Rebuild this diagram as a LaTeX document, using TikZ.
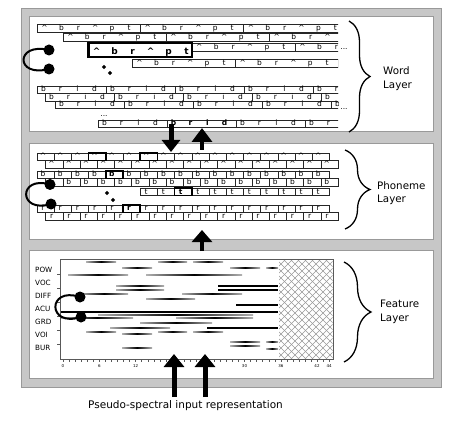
\documentclass[tikz,border=0pt]{standalone}
\usepackage{fontspec}
\setmainfont{DejaVu Sans}
\usetikzlibrary{shapes.geometric,decorations.pathreplacing,arrows.meta}

\newcommand\aptbox[3]{%
  \draw[cell] (#2,#1) rectangle ++(103.2,8);%
  \foreach \c [count=\i from 0] in {\textasciicircum,b,r,\textasciicircum,p,t}{%
    \node[#3] at (#2+7.5+16.9*\i,#1+6.3) {\c};}}
\newcommand\bridbox[3]{%
  \draw[cell] (#2,#1) rectangle ++(69,7.5);%
  \foreach \c [count=\i from 0] in {b,r,i,d}{%
    \node[#3] at (#2+6.5+17*\i,#1+6) {\c};}}
\newcommand\phbox[4]{%
  \draw[cell] (#2,#1) rectangle ++(17.2,7.5);%
  \node[#4] at (#2+6,#1+6) {#3};}
\newcommand\phbold[3]{%
  \draw[line width=1.5pt,fill=white] (#2,#1) rectangle ++(17.2,7.5);%
  \node[bltr] at (#2+6,#1+6) {#3};}
\newcommand\fband[3]{%
  \shade[left color=black!30,right color=black!30,middle color=black] (#1,#3-0.8) rectangle (#2,#3+0.8);}
\newcommand\sband[3]{%
  \fill[black] (#1,#3-0.8) rectangle (#2,#3+0.8);}

\begin{document}
\begin{tikzpicture}[x=1pt,y=-1pt,
  cell/.style={draw=black!85,line width=0.5pt},
  ltr/.style={inner sep=0pt,anchor=base,font=\fontsize{7.5}{7.5}\selectfont},
  bltr/.style={ltr,font=\fontsize{7.5}{7.5}\selectfont\bfseries},
  bigltr/.style={inner sep=0pt,anchor=base,font=\fontsize{9}{9}\selectfont\bfseries},
  dotc/.style={circle,fill=black,inner sep=0pt,minimum size=11pt},
  loopl/.style={line width=2pt,black},
  dmd/.style={diamond,fill=black,inner sep=0pt,minimum size=4.5pt},
  lab/.style={font=\fontsize{10.3}{13.5}\selectfont,align=left,anchor=west,inner sep=0pt},
  brc/.style={decorate,decoration={brace,amplitude=#1},line width=1.3pt},
  bigarrow/.style={line width=5pt,-{Triangle[width=20pt,length=13pt]}},
  flab/.style={font=\fontsize{7.2}{7.2}\selectfont,anchor=west,inner sep=0pt},
  tlab/.style={font=\fontsize{4}{4}\selectfont,inner sep=0pt},
  hatch/.style={draw=black!40,line width=0.4pt},
  frame/.style={fill=black!22,draw=black!40,line width=0.6pt},
  panel/.style={fill=white,draw=black!40,line width=0.6pt},
]
\useasboundingbox (0,0) rectangle (450,425);

% frame and panels
\path[frame] (21,8) rectangle (441,387);
\path[panel] (29,16) rectangle (433,131);
\path[panel] (29,143) rectangle (433,239);
\path[panel] (29,250) rectangle (433,378);

% ---------------- Word layer ----------------
\begin{scope}
\clip (30,17) rectangle (338,130);
\foreach \k in {0,...,2} {\aptbox{24.5}{37+\k*103.2}{ltr}}
\foreach \k in {0,...,2} {\aptbox{33}{62.9+\k*103.2}{ltr}}
\foreach \k in {1,...,2} {\aptbox{43}{88.6+\k*103.2}{ltr}}
\foreach \k in {0,...,1} {\aptbox{59.5}{132+\k*103.2}{ltr}}
\foreach \k in {0,...,4} {\bridbox{86}{37+\k*69}{ltr}}
\foreach \k in {0,...,4} {\bridbox{93.5}{45+\k*69}{ltr}}
\foreach \k in {0,...,4} {\bridbox{101}{55+\k*69}{ltr}}
\bridbox{120}{98}{ltr}
\bridbox{120}{167}{bltr}
\bridbox{120}{236}{ltr}
\bridbox{120}{305}{ltr}
\end{scope}
% bold word box
\draw[line width=2.4pt,fill=white] (88.6,43) rectangle (192.2,57);
\foreach \c [count=\i from 0] in {\textasciicircum,b,r,\textasciicircum,p,t}{
  \node[bigltr] at (88.6+8+18*\i,54.3) {\c};}
\node[ltr] (wd1) at (344,50) {...};
\node[ltr] (wd2) at (344,109.5) {...};
\node[ltr] (wd3) at (104,117) {...};
\node[dmd] (wm1) at (104,67) {};
\node[dmd] (wm2) at (110,73) {};
\coordinate (wc1) at (49,50);
\coordinate (wc2) at (49,69);
\draw[loopl] (wc1) .. controls (15,42) and (15,78) .. (wc2);
\node[dotc] (wd1c) at (wc1) {};
\node[dotc] (wd2c) at (wc2) {};

% ---------------- Phoneme layer ----------------
\foreach \k in {0,...,16} {\phbox{153}{37+\k*17.2}{\textasciicircum}{ltr}}
\foreach \k in {0,...,16} {\phbox{160.5}{45.6+\k*17.2}{\textasciicircum}{ltr}}
\foreach \k in {0,...,16} {\phbox{171}{37+\k*17.2}{b}{ltr}}
\foreach \k in {0,...,16} {\phbox{178.5}{45.6+\k*17.2}{b}{ltr}}
\foreach \k in {6,...,16} {\phbox{188}{37+\k*17.2}{t}{ltr}}
\foreach \k in {0,...,16} {\phbox{205}{37+\k*17.2}{r}{ltr}}
\foreach \k in {0,...,16} {\phbox{212.5}{45.6+\k*17.2}{r}{ltr}}
\phbold{153}{88.6}{\textasciicircum}
\phbold{153}{140.2}{\textasciicircum}
\phbold{171}{105.8}{b}
\phbold{188}{174.6}{t}
\phbold{205}{123}{r}
\node[dmd] (pm1) at (107,193) {};
\node[dmd] (pm2) at (113,200) {};
\coordinate (pc1) at (50,184.5);
\coordinate (pc2) at (51,204);
\draw[loopl] (pc1) .. controls (18,175) and (18,214) .. (pc2);
\node[dotc] (pd1) at (pc1) {};
\node[dotc] (pd2) at (pc2) {};

% ---------------- Feature layer ----------------
\begin{scope}
\clip (279,259.5) rectangle (332.7,358.7);
\foreach \k in {150,157,...,340} {\draw[hatch] (\k,259) -- ++(110,110);}
\foreach \k in {272,279,...,450} {\draw[hatch] (\k,259) -- ++(-110,110);}
\end{scope}
\draw[black!65,line width=0.6pt] (60,259) rectangle (333,359);
\foreach \yy in {274,288,302,316,330,344} {\draw[black!65,line width=0.5pt] (60,\yy) -- ++(-3,0);}
\foreach \i in {0,...,44} {\draw[black!65,line width=0.4pt] (63+6.05*\i,359) -- ++(0,2.5);}
\foreach \v/\xx in {0/63,6/99.3,12/135.6,30/244.5,36/280.8,42/317,44/329.2}
  {\node[tlab] (t\v) at (\xx,366) {\v};}
\node[flab] (fPOW) at (35,270) {POW};
\node[flab] (fVOC) at (35,283) {VOC};
\node[flab] (fDIFF) at (35,296) {DIFF};
\node[flab] (fACU) at (35,309) {ACU};
\node[flab] (fGRD) at (35,322) {GRD};
\node[flab] (fVOI) at (35,335) {VOI};
\node[flab] (fBUR) at (35,347.5) {BUR};

\fband{86}{116}{262}\fband{158}{187}{262}\fband{193}{223}{262}
\fband{122}{152}{268}\fband{230}{260}{268}\fband{266}{278}{268}
\fband{68}{128}{275}\fband{146}{242}{275}
\fband{116}{164}{286}\fband{116}{164}{290}
\sband{218}{278}{286}\sband{218}{278}{290}
\fband{80}{128}{294}\fband{182}{242}{294}
\fband{146}{195}{299}
\sband{236}{278}{305}
\sband{61}{278}{312}
\fband{98}{253}{315}
\fband{61}{133}{318}\fband{176}{253}{318}
\fband{140}{212}{323}
\fband{110}{170}{328}\sband{207}{278}{328}
\fband{86}{116}{332}\fband{122}{152}{334}\fband{158}{187}{332}\fband{193}{223}{332}
\fband{230}{260}{342}\fband{266}{278}{342}
\fband{230}{260}{346}
\fband{122}{152}{348}\fband{266}{278}{349}

\coordinate (fc1) at (80,297);
\coordinate (fc2) at (81,317);
\draw[loopl] (fc1) .. controls (47,286) and (47,328) .. (fc2);
\node[dotc] (fd1) at (fc1) {};
\node[dotc] (fd2) at (fc2) {};

% ---------------- arrows ----------------
\coordinate (dA1) at (171,124); \coordinate (dA2) at (171,152);
\coordinate (uA1) at (202,150); \coordinate (uA2) at (202,128);
\coordinate (uB1) at (202,251); \coordinate (uB2) at (202,230);
\coordinate (iA1) at (174,397); \coordinate (iA2) at (174,354);
\coordinate (iB1) at (205,397); \coordinate (iB2) at (205,354);
\draw[line width=5pt,-{Triangle[width=18pt,length=12pt]}] (dA1) -- (dA2);
\draw[line width=4.5pt,-{Triangle[width=20pt,length=14pt]}] (uA1) -- (uA2);
\draw[line width=4.5pt,-{Triangle[width=20pt,length=12pt]}] (uB1) -- (uB2);
\draw[bigarrow] (iA1) -- (iA2);
\draw[bigarrow] (iB1) -- (iB2);

% ---------------- braces and labels ----------------
\coordinate (bw1) at (349,21); \coordinate (bw2) at (349,132);
\coordinate (bp1) at (345,150); \coordinate (bp2) at (345,229);
\coordinate (bf1) at (344,262); \coordinate (bf2) at (344,362);
\draw[brc=21pt] (bw1) -- (bw2);
\draw[brc=25pt] (bp1) -- (bp2);
\draw[brc=27pt] (bf1) -- (bf2);
\node[lab] (lw) at (383,78.5) {Word\\Layer};
\node[lab] (lp) at (377,193) {Phoneme\\Layer};
\node[lab] (lf) at (380,312) {Feature\\Layer};
\node[font=\fontsize{10.5}{12}\selectfont,inner sep=0pt] (inp) at (185.5,406) {Pseudo-spectral input representation};
\end{tikzpicture}
\end{document}
